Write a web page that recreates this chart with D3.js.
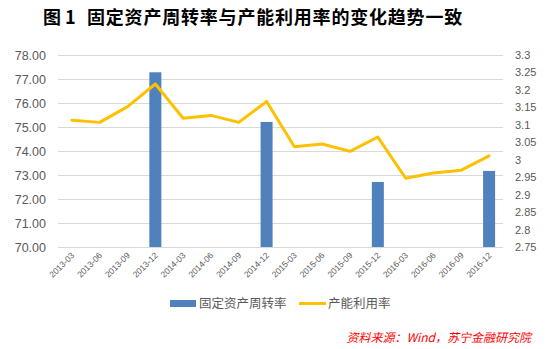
<!DOCTYPE html>
<html><head><meta charset="utf-8">
<script src="https://cdn.jsdelivr.net/npm/d3@7"></script>
<style>body{margin:0;background:#fff}svg{display:block}</style>
</head><body>
<script>
const categories = ["2013-03","2013-06","2013-09","2013-12","2014-03","2014-06","2014-09","2014-12","2015-03","2015-06","2015-09","2015-12","2016-03","2016-06","2016-09","2016-12"];
const turnover = [null,null,null,77.28,null,null,null,75.21,null,null,null,72.71,null,null,null,73.17];
const utilization = [3.113,3.107,3.152,3.217,3.119,3.127,3.107,3.167,3.037,3.045,3.024,3.065,2.947,2.962,2.970,3.011];
const leftTicks = [70,71,72,73,74,75,76,77,78];
const rightTicks = [2.75,2.8,2.85,2.9,2.95,3,3.05,3.1,3.15,3.2,3.25,3.3];
const titleLabel = "图 1";
const title = "固定资产周转率与产能利用率的变化趋势一致";
const seriesNames = ["固定资产周转率","产能利用率"];
const source = "资料来源：Wind，苏宁金融研究院";

const W=553,H=349;
const svg=d3.select("body").append("svg").attr("width",W).attr("height",H);
const font="'Microsoft YaHei','Noto Sans CJK SC',sans-serif";
const x=d3.scaleBand().domain(categories).range([58,503]);
const yL=d3.scaleLinear().domain([70,78]).range([247,55]);
const yR=d3.scaleLinear().domain([2.75,3.3]).range([247,55]);

svg.append("text").attr("x",43).attr("y",24)
  .attr("font-family","'Noto Sans CJK SC',sans-serif").attr("font-weight","bold").attr("font-size",18)
  .attr("fill","#000").attr("xml:space","preserve").text(titleLabel);
svg.append("text").attr("x",87).attr("y",24)
  .attr("font-family","'Noto Sans CJK SC',sans-serif").attr("font-weight","bold").attr("font-size",18)
  .attr("letter-spacing",0.8).attr("fill","#000").text(title);

// grid
svg.append("g").selectAll("line").data(leftTicks).join("line")
  .attr("x1",58).attr("x2",503).attr("y1",d=>yL(d)+0.5).attr("y2",d=>yL(d)+0.5)
  .attr("stroke","#d9d9d9").attr("stroke-width",1);

// left axis
const gl=svg.append("g").attr("transform","translate(46,0)")
  .call(d3.axisLeft(yL).tickValues(leftTicks).tickFormat(d3.format(".2f")).tickSize(0).tickPadding(0));
gl.select(".domain").remove();
gl.selectAll("text").attr("font-family","'Liberation Sans',Arial,sans-serif").attr("font-size",12.5).attr("fill","#595959");

// right axis
const gr=svg.append("g").attr("transform","translate(515,0)")
  .call(d3.axisRight(yR).tickValues(rightTicks).tickFormat(d=>String(+d.toFixed(2))).tickSize(0).tickPadding(0));
gr.select(".domain").remove();
gr.selectAll("text").attr("font-family","'Liberation Sans',Arial,sans-serif").attr("font-size",11).attr("fill","#595959");

// x axis
const gx=svg.append("g").attr("transform","translate(0,247)")
  .call(d3.axisBottom(x).tickSize(0).tickPadding(0));
gx.select(".domain").remove();
gx.selectAll("text").attr("font-family","'Liberation Sans',Arial,sans-serif").attr("font-size",8.5).attr("fill","#595959")
  .attr("text-anchor","end").attr("dy",0).attr("transform","translate(3,9) rotate(-45)");

// bars
const bw=12;
svg.append("g").selectAll("rect").data(categories.map((c,i)=>({c,v:turnover[i]})).filter(d=>d.v!=null)).join("rect")
  .attr("x",d=>x(d.c)+x.bandwidth()/2-bw/2).attr("width",bw)
  .attr("y",d=>yL(d.v)).attr("height",d=>yL(70)-yL(d.v)).attr("fill","#4f81bd");

// line
const line=d3.line().x((d,i)=>x(categories[i])+x.bandwidth()/2).y(d=>yR(d));
svg.append("path").datum(utilization).attr("d",line).attr("fill","none")
  .attr("stroke","#ffc000").attr("stroke-width",3).attr("stroke-linejoin","round").attr("stroke-linecap","round");

// legend
const lg=svg.append("g");
lg.append("rect").attr("x",170).attr("y",300).attr("width",26).attr("height",7).attr("fill","#4f81bd");
lg.append("text").attr("x",199).attr("y",308).attr("font-family",font).attr("font-size",12.5).attr("fill","#595959").text(seriesNames[0]);
lg.append("line").attr("x1",299).attr("x2",326).attr("y1",303.5).attr("y2",303.5).attr("stroke","#ffc000").attr("stroke-width",3);
lg.append("text").attr("x",328).attr("y",308).attr("font-family",font).attr("font-size",12.5).attr("fill","#595959").text(seriesNames[1]);

// source
svg.append("text").attr("x",531).attr("y",342).attr("text-anchor","end").attr("font-family",font)
  .attr("font-size",12).attr("font-style","italic").attr("fill","#ff0000").text(source);
</script>
</body></html>
